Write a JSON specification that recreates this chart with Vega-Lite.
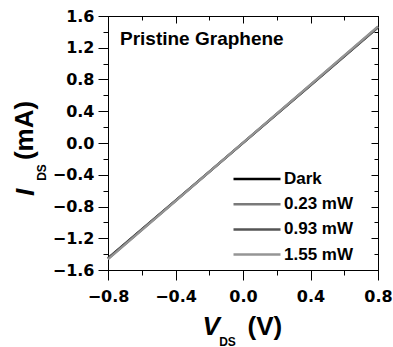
{
  "$schema": "https://vega.github.io/schema/vega-lite/v6.json",
  "width": 270,
  "height": 254,
  "autosize": {"type": "none"},
  "padding": {"left": 108, "top": 16, "right": 15, "bottom": 77},
  "background": "white",
  "title": {
    "text": "Pristine Graphene",
    "orient": "top",
    "anchor": "start",
    "frame": "group",
    "offset": 0,
    "dx": 12,
    "dy": 56,
    "baseline": "alphabetic",
    "font": "Liberation Sans",
    "fontSize": 19,
    "fontWeight": "bold",
    "color": "black"
  },
  "config": {
    "view": {"stroke": null},
    "axis": {
      "grid": false,
      "domainColor": "black",
      "domainWidth": 1,
      "tickColor": "black",
      "tickWidth": 1,
      "labelColor": "black",
      "titleColor": "black"
    }
  },
  "data": {
    "values": [
      {"series": "Dark", "v": -0.8, "i": -1.45},
      {"series": "Dark", "v": -0.4, "i": -0.725},
      {"series": "Dark", "v": 0.0, "i": 0.0},
      {"series": "Dark", "v": 0.4, "i": 0.727},
      {"series": "Dark", "v": 0.8, "i": 1.455},
      {"series": "0.23 mW", "v": -0.8, "i": -1.455},
      {"series": "0.23 mW", "v": -0.4, "i": -0.728},
      {"series": "0.23 mW", "v": 0.0, "i": 0.001},
      {"series": "0.23 mW", "v": 0.4, "i": 0.73},
      {"series": "0.23 mW", "v": 0.8, "i": 1.46},
      {"series": "0.93 mW", "v": -0.8, "i": -1.46},
      {"series": "0.93 mW", "v": -0.4, "i": -0.73},
      {"series": "0.93 mW", "v": 0.0, "i": 0.002},
      {"series": "0.93 mW", "v": 0.4, "i": 0.732},
      {"series": "0.93 mW", "v": 0.8, "i": 1.465},
      {"series": "1.55 mW", "v": -0.8, "i": -1.465},
      {"series": "1.55 mW", "v": -0.4, "i": -0.733},
      {"series": "1.55 mW", "v": 0.0, "i": 0.003},
      {"series": "1.55 mW", "v": 0.4, "i": 0.735},
      {"series": "1.55 mW", "v": 0.8, "i": 1.47}
    ]
  },
  "resolve": {"axis": {"x": "independent", "y": "independent"}},
  "layer": [
    {
      "mark": {"type": "line", "strokeWidth": 2.2},
      "encoding": {
        "x": {
          "field": "v", "type": "quantitative",
          "scale": {"domain": [-0.8, 0.8], "nice": false, "zero": false},
          "axis": {
            "orient": "bottom",
            "values": [-0.8, -0.4, 0, 0.4, 0.8],
            "format": ".1f",
            "tickSize": 10,
            "labelPadding": 8,
            "labelFont": "DejaVu Sans",
            "labelFontWeight": "bold",
            "labelFontSize": 16,
            "labelFlush": false,
            "labelOverlap": false,
            "title": "V",
            "titleFont": "Liberation Sans",
            "titleFontSize": 26,
            "titleFontWeight": "bold",
            "titleFontStyle": "italic",
            "titleAlign": "left",
            "titleBaseline": "alphabetic",
            "titleX": 94,
            "titleY": 64
          }
        },
        "y": {
          "field": "i", "type": "quantitative",
          "scale": {"domain": [-1.6, 1.6], "nice": false, "zero": false},
          "axis": {
            "orient": "left",
            "values": [-1.6, -1.2, -0.8, -0.4, 0, 0.4, 0.8, 1.2, 1.6],
            "format": ".1f",
            "tickSize": 10,
            "labelPadding": 4,
            "labelFont": "DejaVu Sans",
            "labelFontWeight": "bold",
            "labelFontSize": 16,
            "labelFlush": false,
            "labelOverlap": false,
            "title": "I",
            "titleFont": "Liberation Sans",
            "titleFontSize": 26,
            "titleFontWeight": "bold",
            "titleFontStyle": "italic",
            "titleAngle": -90,
            "titleAlign": "center",
            "titleBaseline": "alphabetic",
            "titleX": -75,
            "titleY": 176
          }
        },
        "color": {
          "field": "series", "type": "nominal",
          "sort": ["Dark", "0.23 mW", "0.93 mW", "1.55 mW"],
          "scale": {
            "domain": ["Dark", "0.23 mW", "0.93 mW", "1.55 mW"],
            "range": ["#000000", "#7a7a7a", "#555555", "#959595"]
          },
          "legend": {
            "orient": "none",
            "legendX": 124,
            "legendY": 155,
            "title": null,
            "padding": 0,
            "symbolType": "stroke",
            "symbolSize": 2209,
            "symbolStrokeWidth": 2.5,
            "clipHeight": 16,
            "rowPadding": 8.2,
            "labelOffset": 2,
            "labelFont": "Liberation Sans",
            "labelFontSize": 17,
            "labelFontWeight": "bold",
            "labelColor": "black"
          }
        },
        "order": {"field": "series", "sort": "ascending"}
      }
    },
    {
      "mark": {"type": "line", "strokeOpacity": 0},
      "encoding": {
        "detail": {"field": "series"},
        "x": {
          "field": "v", "type": "quantitative",
          "scale": {"domain": [-0.8, 0.8], "nice": false, "zero": false},
          "axis": {
            "orient": "top",
            "values": [-0.8, -0.4, 0, 0.4, 0.8],
            "tickSize": -7,
            "labels": false,
            "title": "DS",
            "titleFont": "Liberation Sans",
            "titleFontSize": 12,
            "titleFontWeight": "bold",
            "titleAlign": "center",
            "titleBaseline": "alphabetic",
            "titleX": 119,
            "titleY": 329
          }
        },
        "y": {
          "field": "i", "type": "quantitative",
          "scale": {"domain": [-1.6, 1.6], "nice": false, "zero": false},
          "axis": {
            "orient": "right",
            "values": [-1.6, -1.2, -0.8, -0.4, 0, 0.4, 0.8, 1.2, 1.6],
            "tickSize": -7,
            "labels": false,
            "title": "DS",
            "titleFont": "Liberation Sans",
            "titleFontSize": 12,
            "titleFontWeight": "bold",
            "titleAngle": -90,
            "titleAlign": "center",
            "titleBaseline": "alphabetic",
            "titleX": -333,
            "titleY": 156
          }
        }
      }
    },
    {
      "mark": {"type": "line", "strokeOpacity": 0},
      "encoding": {
        "detail": {"field": "series"},
        "x": {
          "field": "v", "type": "quantitative",
          "scale": {"domain": [-0.8, 0.8], "nice": false, "zero": false},
          "axis": {
            "orient": "bottom",
            "values": [-0.8, -0.6, -0.4, -0.2, 0, 0.2, 0.4, 0.6, 0.8],
            "tickSize": 5,
            "labels": false,
            "domain": false,
            "title": "(V)",
            "titleFont": "Liberation Sans",
            "titleFontSize": 26,
            "titleFontWeight": "bold",
            "titleAlign": "left",
            "titleBaseline": "alphabetic",
            "titleX": 139,
            "titleY": 64
          }
        },
        "y": {
          "field": "i", "type": "quantitative",
          "scale": {"domain": [-1.6, 1.6], "nice": false, "zero": false},
          "axis": {
            "orient": "left",
            "values": [-1.6, -1.4, -1.2, -1.0, -0.8, -0.6, -0.4, -0.2, 0, 0.2, 0.4, 0.6, 0.8, 1.0, 1.2, 1.4, 1.6],
            "tickSize": 5,
            "labels": false,
            "domain": false,
            "title": "(mA)",
            "titleFont": "Liberation Sans",
            "titleFontSize": 26,
            "titleFontWeight": "bold",
            "titleAngle": -90,
            "titleAlign": "center",
            "titleBaseline": "alphabetic",
            "titleX": -76,
            "titleY": 114
          }
        }
      }
    },
    {
      "mark": {"type": "line", "strokeOpacity": 0},
      "encoding": {
        "detail": {"field": "series"},
        "x": {
          "field": "v", "type": "quantitative",
          "scale": {"domain": [-0.8, 0.8], "nice": false, "zero": false},
          "axis": {
            "orient": "top",
            "values": [-0.8, -0.6, -0.4, -0.2, 0, 0.2, 0.4, 0.6, 0.8],
            "tickSize": -4,
            "labels": false,
            "domain": false,
            "title": null
          }
        },
        "y": {
          "field": "i", "type": "quantitative",
          "scale": {"domain": [-1.6, 1.6], "nice": false, "zero": false},
          "axis": {
            "orient": "right",
            "values": [-1.6, -1.4, -1.2, -1.0, -0.8, -0.6, -0.4, -0.2, 0, 0.2, 0.4, 0.6, 0.8, 1.0, 1.2, 1.4, 1.6],
            "tickSize": -4,
            "labels": false,
            "domain": false,
            "title": null
          }
        }
      }
    }
  ]
}
